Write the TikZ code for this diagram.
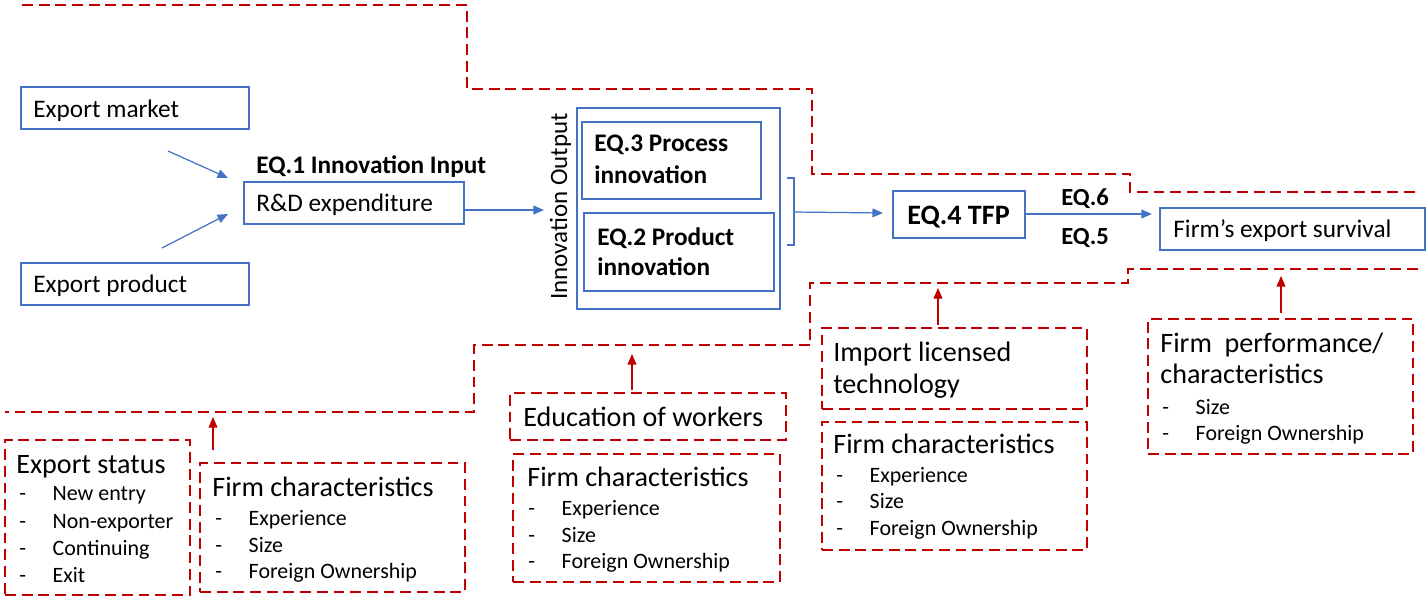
\documentclass[tikz,border=0pt]{standalone}
\usepackage{fontspec}
\setmainfont{Carlito}
\usetikzlibrary{fit,arrows.meta}
\definecolor{bl}{HTML}{4472C4}
\definecolor{rd}{HTML}{C00000}
\newcommand\itmd[1]{\makebox[19pt][l]{-}#1}
\begin{document}
\begin{tikzpicture}[x=0.02cm,y=-0.02cm,
 bbox/.style={draw=bl,line width=0.9pt,inner sep=0pt},
 rbox/.style={draw=rd,line width=1.6pt,dash pattern=on 6.2pt off 3.3pt,inner sep=0pt},
 txt/.style={anchor=base west,inner sep=0pt,font=\fontsize{14.4}{17}\selectfont},
 btxt/.style={anchor=base west,inner sep=0pt,font=\fontsize{14.4}{17}\selectfont\bfseries},
 ttl/.style={anchor=base west,inner sep=0pt,font=\fontsize{16}{19}\selectfont},
 itm/.style={anchor=base west,inner sep=0pt,font=\fontsize{12.5}{15}\selectfont},
 barrow/.style={draw=bl,line width=0.7pt,-{Triangle[length=6pt,width=5pt]}},
 rarrow/.style={draw=rd,line width=0.6pt,-{Triangle[length=6pt,width=5pt]}},
 rline/.style={draw=rd,line width=1.6pt,dash pattern=on 6.2pt off 3.3pt}]
\useasboundingbox (0,0) rectangle (1428,599);

% red dashed separator lines
\draw[rline] (22,5) -| (467,89) -| (812,174) -| (1130,192) -- (1418,192);
\draw[rline] (1418,269) -| (1128,283) -| (810,345) -| (474,412) -- (5,412);

% blue boxes
\node[bbox,fit={(21,87)(249,129)}] (em) {};
\node[txt] (emt) at (33,117) {Export market};
\node[bbox,fit={(21,263)(249,305)}] (ep) {};
\node[txt] (ept) at (33,292) {Export product};
\node[bbox,fit={(244,182)(464,224)}] (rd) {};
\node[txt] (rdt) at (256,211) {R\&D expenditure};
\node[btxt] (eq1) at (256,173) {EQ.1 Innovation Input};

\node[bbox,fit={(577,108)(780,309)}] (io) {};
\node[anchor=base west,inner sep=0pt,rotate=90,font=\fontsize{14.2}{17}\selectfont] (iot) at (567,300) {Innovation Output};
\node[bbox,fit={(582,122)(761,199)}] (pc) {};
\node[btxt] (pc1) at (594,151) {EQ.3 Process};
\node[btxt] (pc2) at (594,183) {innovation};
\node[bbox,fit={(584,213)(774,291)}] (pd) {};
\node[btxt] (pd1) at (597,245) {EQ.2 Product};
\node[btxt] (pd2) at (597,275) {innovation};

\node[bbox,fit={(893,191)(1025,238)}] (tfp) {};
\node[anchor=base west,inner sep=0pt,font=\fontsize{16}{19}\selectfont\bfseries] (tfpt) at (907,224) {EQ.4 TFP};
\node[anchor=base west,inner sep=0pt,font=\fontsize{14}{17}\selectfont\bfseries] (eq6) at (1061,205) {EQ.6};
\node[anchor=base west,inner sep=0pt,font=\fontsize{14}{17}\selectfont\bfseries] (eq5) at (1061,244) {EQ.5};
\node[bbox,fit={(1160,208)(1425,250)}] (sv) {};
\node[txt] (svt) at (1173,237) {Firm’s export survival};

% blue arrows
\coordinate (a1s) at (168,151); \coordinate (a1e) at (228,178);
\coordinate (a2s) at (162,248); \coordinate (a2e) at (228,214);
\draw[barrow] (a1s) -- (a1e);
\draw[barrow] (a2s) -- (a2e);
\coordinate (ioin) at (544,210);
\draw[barrow] (rd.east |- ioin) -- (ioin);
\coordinate (bt) at (787,178); \coordinate (bb) at (787,245); \coordinate (bm) at (794,212);
\draw[bl,line width=0.7pt] (bt) -- (794,178) -- (794,245) -- (bb);
\coordinate (tfpin) at (883,213);
\draw[barrow] (bm) -- (tfpin);
\coordinate (svin) at (1152,214);
\draw[barrow] (tfp.east |- svin) -- (svin);

% red dashed boxes
\node[rbox,fit={(5,440)(190,595)}] (es) {};
\node[ttl] at (16,473) {Export status};
\node[itm] at (19,500) {\itmd{New entry}};
\node[itm] at (19,528) {\itmd{Non-exporter}};
\node[itm] at (19,555) {\itmd{Continuing}};
\node[itm] at (19,582) {\itmd{Exit}};

\node[rbox,fit={(200,463)(465,592)}] (fc1) {};
\node[ttl] at (212,496) {Firm characteristics};
\node[itm] at (215,525) {\itmd{Experience}};
\node[itm] at (215,552) {\itmd{Size}};
\node[itm] at (215,578) {\itmd{Foreign Ownership}};

\node[rbox,fit={(510,393)(786,440)}] (ew) {};
\node[ttl] at (523,426) {Education of workers};

\node[rbox,fit={(513,454)(780,582)}] (fc2) {};
\node[ttl] at (527,486) {Firm characteristics};
\node[itm] at (528,515) {\itmd{Experience}};
\node[itm] at (528,542) {\itmd{Size}};
\node[itm] at (528,568) {\itmd{Foreign Ownership}};

\node[rbox,fit={(822,328)(1087,409)}] (il) {};
\node[ttl] at (833,361) {Import licensed};
\node[ttl] at (833,393) {technology};

\node[rbox,fit={(822,422)(1087,550)}] (fc3) {};
\node[ttl] at (833,453) {Firm characteristics};
\node[itm] at (836,482) {\itmd{Experience}};
\node[itm] at (836,508) {\itmd{Size}};
\node[itm] at (836,535) {\itmd{Foreign Ownership}};

\node[rbox,fit={(1148,319)(1413,454)}] (fp) {};
\node[ttl] at (1160,352) {Firm\ \ performance/};
\node[ttl] at (1160,383) {characteristics};
\node[itm] at (1162,414) {\itmd{Size}};
\node[itm] at (1162,440) {\itmd{Foreign Ownership}};

% red arrows
\coordinate (r1s) at (213,450); \coordinate (r1e) at (213,417);
\coordinate (r2s) at (632,390); \coordinate (r2e) at (632,354);
\coordinate (r3s) at (938,325); \coordinate (r3e) at (938,288);
\coordinate (r4s) at (1281,313); \coordinate (r4e) at (1281,276);
\draw[rarrow] (r1s) -- (r1e);
\draw[rarrow] (r2s) -- (r2e);
\draw[rarrow] (r3s) -- (r3e);
\draw[rarrow] (r4s) -- (r4e);
\end{tikzpicture}
\end{document}
